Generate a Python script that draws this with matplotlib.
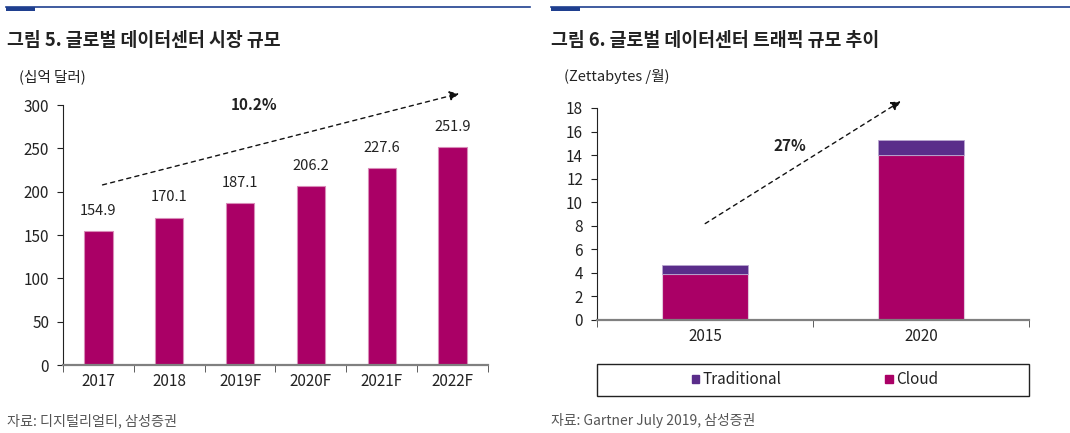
import matplotlib
matplotlib.use("Agg")
import matplotlib.pyplot as plt
from matplotlib.patches import Rectangle
from matplotlib.lines import Line2D

plt.rcParams['font.family'] = ['Noto Sans CJK KR', 'DejaVu Sans']

# ---- data ----
market_years = ["2017", "2018", "2019F", "2020F", "2021F", "2022F"]
market_values = [154.9, 170.1, 187.1, 206.2, 227.6, 251.9]
market_labels = ["154.9", "170.1", "187.1", "206.2", "227.6", "251.9"]
market_cagr = "10.2%"

traffic_years = ["2015", "2020"]
traffic_cloud = [3.9, 14.0]
traffic_traditional = [0.8, 1.3]
traffic_cagr = "27%"

W, H = 1070, 433
fig = plt.figure(figsize=(W / 100, H / 100), dpi=100)

MAG = "#AA0066"
PUR = "#5A2D8A"
NAVY = "#1F3F8F"
TXT = "#222222"


def fx(x):
    return x / W


def fy(y):
    return 1 - y / H


def px_axes(x0, y0, x1, y1):
    return fig.add_axes([fx(x0), fy(y1), fx(x1 - x0), (y1 - y0) / H])


# top decorations
for (a, b) in [(6, 530), (551, 1070)]:
    fig.add_artist(Line2D([fx(a), fx(b)], [fy(7), fy(7)], color=NAVY, lw=1.2))
    fig.add_artist(Rectangle((fx(a), fy(11)), fx(29), 4 / H, color=NAVY, lw=0))

# titles
fig.text(fx(7), fy(40), "그림 5. 글로벌 데이터센터 시장 규모", fontsize=13.2,
         fontweight='bold', color=TXT, va='center', ha='left')
fig.text(fx(551), fy(40), "그림 6. 글로벌 데이터센터 트래픽 규모 추이", fontsize=13.2,
         fontweight='bold', color=TXT, va='center', ha='left')
fig.text(fx(19), fy(77), "(십억 달러)", fontsize=10.5, color=TXT, va='center')
fig.text(fx(564), fy(77), "(Zettabytes /월)", fontsize=10.5, color=TXT, va='center')
fig.text(fx(7), fy(421), "자료: 디지털리얼티, 삼성증권", fontsize=10.2, color="#555555", va='center')
fig.text(fx(551), fy(421), "자료: Gartner July 2019, 삼성증권", fontsize=10.0, color="#555555", va='center')


def style_axes(ax, n):
    for s in ['top', 'right']:
        ax.spines[s].set_visible(False)
    ax.spines['left'].set_color('#222222')
    ax.spines['left'].set_linewidth(0.8)
    ax.spines['bottom'].set_color('#808080')
    ax.spines['bottom'].set_linewidth(1.6)
    ax.set_xlim(-0.5, n - 0.5)
    ax.set_xticks(range(n))
    ax.set_xticks([i - 0.5 for i in range(n + 1)], minor=True)
    ax.tick_params(axis='x', which='major', length=0, labelsize=11, colors=TXT, pad=6)
    ax.tick_params(axis='x', which='minor', length=5, direction='out', color='#444444')
    ax.tick_params(axis='y', length=4, direction='out', labelsize=11, colors=TXT, pad=6)


# ---- left chart ----
ax1 = px_axes(63, 105, 488, 365)
x1 = list(range(len(market_years)))
ax1.bar(x1, market_values, width=0.4, color=MAG, edgecolor="#D98CB8", linewidth=0.8)
ax1.set_ylim(0, 300)
ax1.set_yticks(range(0, 301, 50))
style_axes(ax1, len(market_years))
ax1.set_xticklabels(market_years)
for xi, v, lab in zip(x1, market_values, market_labels):
    ax1.annotate(lab, (xi, v), xytext=(0, 14.5), textcoords='offset points',
                 ha='center', va='center', fontsize=10.5, color=TXT)
ax1.annotate("", xy=(5.13, 314), xytext=(0.02, 207), annotation_clip=False,
             arrowprops=dict(arrowstyle='-|>', linestyle=(0, (3, 3)), color='#111111',
                             lw=1.0, mutation_scale=14))
ax1.text(2.2, 300.5, market_cagr, fontsize=11, fontweight='bold', ha='center', va='center',
         color=TXT)

# ---- right chart ----
ax2 = px_axes(597, 108, 1029, 320)
x2 = list(range(len(traffic_years)))
ax2.bar(x2, traffic_cloud, width=0.4, color=MAG, edgecolor="#E2C6DC", linewidth=0.8,
        label="Cloud")
ax2.bar(x2, traffic_traditional, width=0.4, bottom=traffic_cloud, color=PUR,
        edgecolor="#B9A6CF", linewidth=0.6, label="Traditional")
ax2.set_ylim(0, 18)
ax2.set_yticks(range(0, 19, 2))
style_axes(ax2, len(traffic_years))
ax2.set_xticklabels(traffic_years)
ax2.annotate("", xy=(0.917, 18.7), xytext=(-0.01, 8.06), annotation_clip=False,
             arrowprops=dict(arrowstyle='-|>', linestyle=(0, (3, 3)), color='#111111',
                             lw=1.0, mutation_scale=14))
ax2.text(0.395, 14.8, traffic_cagr, fontsize=11, fontweight='bold', ha='center', va='center',
         color=TXT)

# legend box
fig.add_artist(Rectangle((fx(597), fy(396)), fx(432), 32 / H, fill=False,
                         edgecolor='#222222', lw=1.0))
handles = [Rectangle((0, 0), 1, 1, color=PUR), Rectangle((0, 0), 1, 1, color=MAG)]
fig.legend(handles, ["Traditional", "Cloud"], loc='center', bbox_to_anchor=(fx(815), fy(380)),
           ncol=2, frameon=False, fontsize=11, handlelength=0.5, handleheight=0.5,
           handletextpad=0.2, columnspacing=6.8, labelcolor=TXT)

fig.savefig("out.png", dpi=100)
